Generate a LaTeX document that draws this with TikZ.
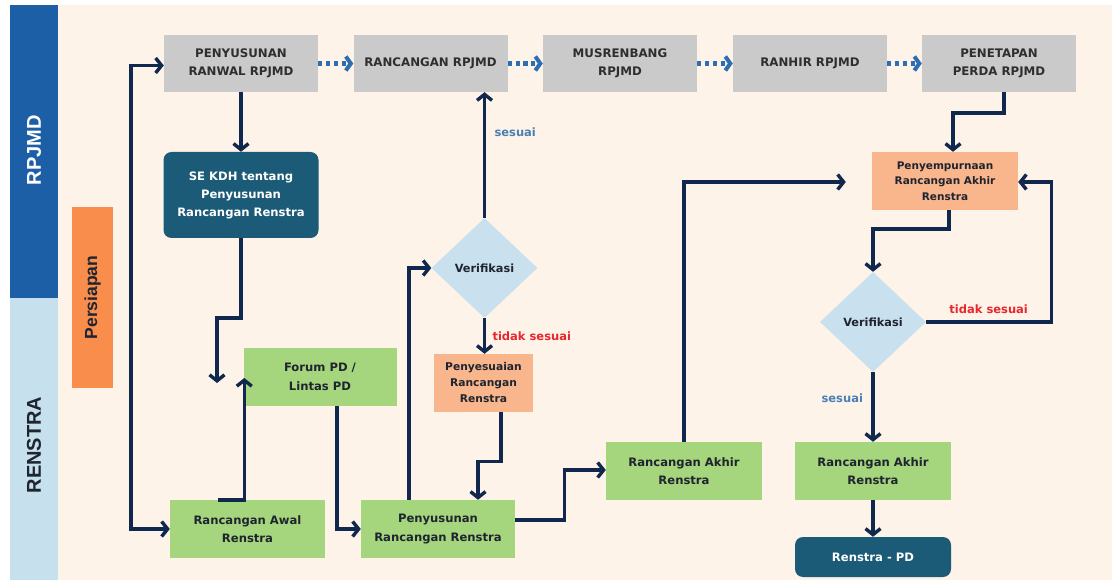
\documentclass[tikz,border=0pt]{standalone}
\usepackage{fontspec}
\setmainfont{DejaVu Sans}
\newfontfamily\arialf{Liberation Sans}
\usetikzlibrary{arrows.meta,shapes.geometric}
\definecolor{colblue}{HTML}{1D5FA6}
\definecolor{collight}{HTML}{C6E0EE}
\definecolor{creambg}{HTML}{FDF3E8}
\definecolor{grayb}{HTML}{CACACA}
\definecolor{tealbox}{HTML}{1C5B77}
\definecolor{greenb}{HTML}{A5D57C}
\definecolor{salmonb}{HTML}{F9B58B}
\definecolor{orangeb}{HTML}{F98D4C}
\definecolor{diamb}{HTML}{C9E1EE}
\definecolor{navyl}{HTML}{11284E}
\definecolor{dotblue}{HTML}{2D6DB2}
\definecolor{okblue}{HTML}{4A7FB3}
\definecolor{nored}{HTML}{E8262D}
\definecolor{txtd}{HTML}{1E2430}
\begin{document}
\begin{tikzpicture}[x=1pt,y=-1pt,
  basebox/.style={inner sep=0pt, align=center, text=txtd, font=\bfseries\fontsize{11.6}{18.5}\selectfont},
  graybox/.style={basebox, fill=grayb, minimum width=154, minimum height=57, text=black!82, font=\bfseries\fontsize{11.8}{18}\selectfont},
  greenbox/.style={basebox, fill=greenb, minimum width=155, minimum height=58},
  salmonbox/.style={basebox, fill=salmonb, font=\bfseries\fontsize{10.5}{15.5}\selectfont},
  tealrbox/.style={basebox, fill=tealbox, rounded corners=8pt, text=white, minimum width=155},
  diabox/.style={basebox, shape=diamond, fill=diamb, minimum width=106, minimum height=100, font=\bfseries\fontsize{11.3}{14}\selectfont},
  arr/.style={draw=navyl, line width=3.4pt, -{Straight Barb[length=6pt,width=15pt]}},
  dotarr/.style={draw=dotblue, line width=4.5pt, dash pattern=on 4.2pt off 3.6pt, -{Straight Barb[length=5pt,width=14pt,line width=4pt]}},
  oklbl/.style={text=okblue, font=\bfseries\fontsize{11.5}{14}\selectfont},
  nolbl/.style={text=nored, font=\bfseries\fontsize{11.5}{14}\selectfont}
]
\useasboundingbox (0,0) rectangle (1112,580);
\fill[white] (0,0) rectangle (1112,580);
\fill[creambg] (58,5) rectangle (1112,580);
\fill[colblue] (10,5) rectangle (58,298);
\fill[collight] (10,298) rectangle (58,580);

\node[rotate=90, text=white, font=\arialf\bfseries\fontsize{20}{22}\selectfont] (lrp) at (34,150) {RPJMD};
\node[rotate=90, text=txtd, font=\arialf\bfseries\fontsize{20}{22}\selectfont] (lrs) at (34,445) {RENSTRA};
\node[fill=orangeb, minimum width=41, minimum height=181, inner sep=0pt] (pers) at (92.5,297.5) {};
\node[rotate=90, text=txtd, font=\arialf\bfseries\fontsize{17.5}{20}\selectfont] (perst) at (92.5,297.5) {Persiapan};

% top row
\node[graybox] (b1) at (241,63.5) {PENYUSUNAN\\RANWAL RPJMD};
\node[graybox] (b2) at (430.5,63.5) {RANCANGAN RPJMD};
\node[graybox] (b3) at (620,63.5) {MUSRENBANG\\RPJMD};
\node[graybox] (b4) at (810,63.5) {RANHIR RPJMD};
\node[graybox] (b5) at (999,63.5) {PENETAPAN\\PERDA RPJMD};

% nodes
\node[tealrbox, minimum height=86, font=\bfseries\fontsize{11.6}{18}\selectfont] (se) at (241,195) {SE KDH tentang\\Penyusunan\\Rancangan Renstra};
\node[greenbox, minimum width=153] (forum) at (320,377) {Forum PD /\\Lintas PD};
\node[greenbox] (awal) at (247.5,529) {Rancangan Awal\\Renstra};
\node[greenbox, minimum width=154] (peny) at (438,529) {Penyusunan\\Rancangan Renstra};
\node[diabox] (ver1) at (484.5,268) {Verifikasi};
\node[salmonbox, minimum width=99, minimum height=58, font=\bfseries\fontsize{10.7}{16}\selectfont] (adj) at (483.5,383) {Penyesuaian\\Rancangan\\Renstra};
\node[greenbox, minimum width=156] (rar1) at (684,471) {Rancangan Akhir\\Renstra};
\node[salmonbox, minimum width=146, minimum height=58] (pemp) at (945,181) {Penyempurnaan\\Rancangan Akhir\\Renstra};
\node[diabox] (ver2) at (873,322) {Verifikasi};
\node[greenbox, minimum width=156] (rar2) at (873,471) {Rancangan Akhir\\Renstra};
\node[tealrbox, minimum width=156, minimum height=40] (rpd) at (873,557) {Renstra - PD};

\coordinate (c1) at (217,383);

% dotted arrows
\draw[dotarr] (b1.east) -- (b2.west);
\draw[dotarr] (b2.east) -- (b3.west);
\draw[dotarr] (b3.east) -- (b4.west);
\draw[dotarr] (b4.east) -- (b5.west);

% connectors
\draw[arr] (b1.south) -- (se.north);
\draw[arr] (se.south) |- (217,318) -- (c1);
\draw[arr] ([xshift=-30pt]awal.north) -| ([xshift=1pt,yshift=-1pt]forum.west);
\draw[arr] ([xshift=17pt]forum.south) |- (peny.west);
\draw[draw=navyl, line width=3.4pt, {Straight Barb[length=6pt,width=15pt]}-{Straight Barb[length=6pt,width=15pt]}] ([yshift=-2pt]b1.west) -| (131,300) |- (awal.west);
\draw[arr] ([xshift=-29pt]peny.north) |- (ver1.west);
\draw[arr] (ver1.north) -- (ver1.north |- b2.south) node[oklbl, pos=0.68, right, xshift=5pt] {sesuai};
\draw[arr] (ver1.south) -- (ver1.south |- adj.north) node[nolbl, midway, right, xshift=3pt] {tidak sesuai};
\draw[arr] ([xshift=17.5pt]adj.south) -- ++(0,49) -| ([xshift=40pt]peny.north);
\draw[arr] ([yshift=9pt]peny.east) -- ++(49,0) |- ([yshift=1pt]rar1.west);
\draw[arr, shorten >=26pt] (rar1.north) |- ([yshift=-1pt]pemp.west);
\draw[arr] ([xshift=5pt]b5.south) -- ++(0,21) -| ([xshift=8pt]pemp.north);
\draw[arr] ([xshift=4pt]pemp.south) -- ++(0,19) -| (ver2.north);
\draw[arr] (ver2.east) -- ++(125,0) node[nolbl, midway, above, yshift=3pt] {tidak sesuai} |- ([yshift=-1pt]pemp.east);
\draw[arr] (ver2.south) -- (rar2.north) node[oklbl, pos=0.37, left, xshift=-5pt] {sesuai};
\draw[arr] (rar2.south) -- (rpd.north);
\end{tikzpicture}
\end{document}
